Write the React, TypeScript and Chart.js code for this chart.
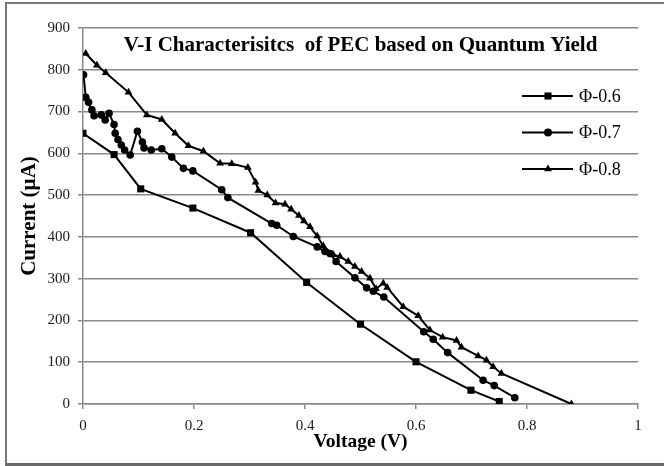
import React, { useEffect, useRef } from "react";
import { Chart, registerables } from "chart.js";

Chart.register(...registerables);

const chartTitle = "V-I Characterisitcs  of PEC based on Quantum Yield";
const xAxisTitle = "Voltage (V)";
const yAxisTitle = "Current (µA)";
const seriesLabels = ["Φ-0.6", "Φ-0.7", "Φ-0.8"];
const seriesMarkers = ["rect", "circle", "triangle"];

const voltage06 = [0, 0.056, 0.104, 0.198, 0.302, 0.403, 0.5, 0.6, 0.699, 0.75];
const current06 = [648, 597, 515, 469, 410, 291, 191, 101, 33, 6];

const voltage07 = [
  0.001, 0.005, 0.01, 0.016, 0.02, 0.033, 0.04, 0.047, 0.056, 0.058, 0.063, 0.069,
  0.075, 0.085, 0.098, 0.107, 0.11, 0.123, 0.142, 0.16, 0.181, 0.198, 0.25, 0.261,
  0.34, 0.349, 0.379, 0.422, 0.436, 0.445, 0.456, 0.49, 0.511, 0.523, 0.542, 0.614,
  0.631, 0.657, 0.721, 0.741, 0.778,
];
const current07 = [
  788, 734, 722, 704, 690, 692, 680, 696, 669, 648, 633, 620, 608, 596, 653, 627,
  613, 608, 611, 591, 564, 558, 513, 494, 432, 428, 401, 376, 365, 360, 341, 302,
  278, 270, 256, 173, 155, 123, 57, 44, 15,
];

const voltage08 = [
  0.005, 0.025, 0.041, 0.082, 0.115, 0.142, 0.166, 0.19, 0.217, 0.247, 0.268, 0.297,
  0.311, 0.316, 0.332, 0.347, 0.364, 0.375, 0.389, 0.398, 0.409, 0.422, 0.433, 0.451,
  0.463, 0.478, 0.49, 0.502, 0.517, 0.528, 0.541, 0.548, 0.577, 0.604, 0.625, 0.648,
  0.673, 0.682, 0.712, 0.727, 0.739, 0.754, 0.88,
];
const current08 = [
  839, 811, 793, 746, 692, 681, 648, 618, 605, 576, 575, 566, 531, 511, 500, 481,
  478, 466, 451, 438, 424, 402, 378, 357, 353, 341, 329, 317, 301, 276, 289, 279,
  233, 211, 177, 160, 152, 136, 115, 105, 89, 73, 0,
];

const xTickValues = [0, 0.2, 0.4, 0.6, 0.8, 1];

const serif = "'Liberation Serif', 'Times New Roman', serif";

function toPoints(xs: number[], ys: number[]) {
  return xs.map((x, i) => ({ x, y: ys[i] }));
}

function drawMarker(ctx: CanvasRenderingContext2D, style: string, x: number, y: number, r: number) {
  ctx.beginPath();
  if (style === "rect") {
    const s = Math.SQRT1_2 * r;
    ctx.rect(x - s, y - s, 2 * s, 2 * s);
  } else if (style === "circle") {
    ctx.arc(x, y, r, 0, Math.PI * 2);
  } else {
    const h = r * 1.5;
    const half = (r * Math.sqrt(3)) / 2;
    ctx.moveTo(x, y - h * 0.66);
    ctx.lineTo(x + half, y + h * 0.34);
    ctx.lineTo(x - half, y + h * 0.34);
    ctx.closePath();
  }
  ctx.fill();
}

const titlePlugin = {
  id: "insideTitle",
  afterDraw(chart: any) {
    const { ctx, chartArea } = chart;
    ctx.save();
    ctx.font = `bold 21px ${serif}`;
    ctx.fillStyle = "#000";
    ctx.textAlign = "center";
    ctx.textBaseline = "middle";
    ctx.fillText(chartTitle, (chartArea.left + chartArea.right) / 2, chartArea.top + 18);
    ctx.restore();
  },
};

const legendPlugin = {
  id: "insideLegend",
  afterDraw(chart: any) {
    const { ctx, chartArea } = chart;
    const radii = [5, 4, 4.5];
    ctx.save();
    chart.data.datasets.forEach((ds: any, i: number) => {
      const y = chartArea.top + 68 + i * 36.5;
      ctx.strokeStyle = "#000";
      ctx.fillStyle = "#000";
      ctx.lineWidth = 2;
      ctx.beginPath();
      ctx.moveTo(chartArea.right - 116, y);
      ctx.lineTo(chartArea.right - 65, y);
      ctx.stroke();
      drawMarker(ctx, seriesMarkers[i], chartArea.right - 90, y, radii[i]);
      ctx.font = `18px ${serif}`;
      ctx.textAlign = "left";
      ctx.textBaseline = "middle";
      ctx.fillText(ds.label, chartArea.right - 59, y + 1);
    });
    ctx.restore();
  },
};

export default function App() {
  const canvasRef = useRef<HTMLCanvasElement | null>(null);

  useEffect(() => {
    if (!canvasRef.current) return;
    const pointSets = [
      toPoints(voltage06, current06),
      toPoints(voltage07, current07),
      toPoints(voltage08, current08),
    ];
    const radii = [5, 3.8, 4.5];
    const chart = new Chart(canvasRef.current, {
      type: "line",
      data: {
        datasets: pointSets.map((pts, i) => ({
          label: seriesLabels[i],
          data: pts,
          borderColor: "#000",
          backgroundColor: "#000",
          borderWidth: 2,
          pointStyle: seriesMarkers[i] as any,
          pointRadius: radii[i],
          pointBorderWidth: 0,
          pointBackgroundColor: "#000",
          pointBorderColor: "#000",
          tension: 0,
          fill: false,
        })),
      },
      options: {
        animation: false,
        responsive: false,
        layout: { padding: { left: 0, right: 26, top: 28, bottom: 0 } },
        plugins: {
          legend: { display: false },
          tooltip: { enabled: false },
          title: { display: false },
        },
        scales: {
          x: {
            type: "linear",
            min: 0,
            max: 1,
            afterFit(scale: any) {
              scale.height = 62;
            },
            afterBuildTicks(scale: any) {
              scale.ticks = xTickValues.map((v) => ({ value: v }));
            },
            grid: {
              display: true,
              drawOnChartArea: false,
              drawTicks: true,
              tickLength: 5,
              color: "#8a8a8a",
              lineWidth: 1.5,
            },
            border: { display: true, color: "#8a8a8a", width: 1.5 },
            ticks: {
              padding: 8,
              color: "#1a1a1a",
              font: { family: serif, size: 15 },
              maxRotation: 0,
              callback: (v: any) => String(Number(v)),
            },
            title: {
              display: true,
              text: xAxisTitle,
              color: "#000",
              font: { family: serif, size: 19.5, weight: "bold" },
              padding: { top: 0, bottom: 12 },
            },
          },
          y: {
            type: "linear",
            min: 0,
            max: 900,
            afterFit(scale: any) {
              scale.width = 83;
            },
            grid: {
              display: true,
              drawTicks: true,
              tickLength: 5,
              color: "#8a8a8a",
              lineWidth: 1.5,
            },
            border: { display: true, color: "#8a8a8a", width: 1.5 },
            ticks: {
              stepSize: 100,
              padding: 8,
              color: "#1a1a1a",
              font: { family: serif, size: 15 },
            },
            title: {
              display: true,
              text: yAxisTitle,
              color: "#000",
              font: { family: serif, size: 21, weight: "bold" },
              padding: { top: 17, bottom: 0 },
            },
          },
        },
      },
      plugins: [titlePlugin, legendPlugin],
    });
    return () => chart.destroy();
  }, []);

  return (
    <div
      style={{
        position: "fixed",
        left: 0,
        top: 0,
        width: 664,
        height: 466,
        overflow: "hidden",
        background: "#fff",
      }}
    >
      <div
        style={{
          position: "absolute",
          left: 5,
          top: 2,
          width: 659,
          height: 464,
          borderLeft: "2px solid #7a7a7a",
          borderTop: "2px solid #7a7a7a",
          borderBottom: "3px solid #6a6a6a",
          boxSizing: "border-box",
        }}
      />
      <canvas
        ref={canvasRef}
        width={664}
        height={466}
        style={{ position: "absolute", left: 0, top: 0, width: 664, height: 466 }}
      />
    </div>
  );
}
